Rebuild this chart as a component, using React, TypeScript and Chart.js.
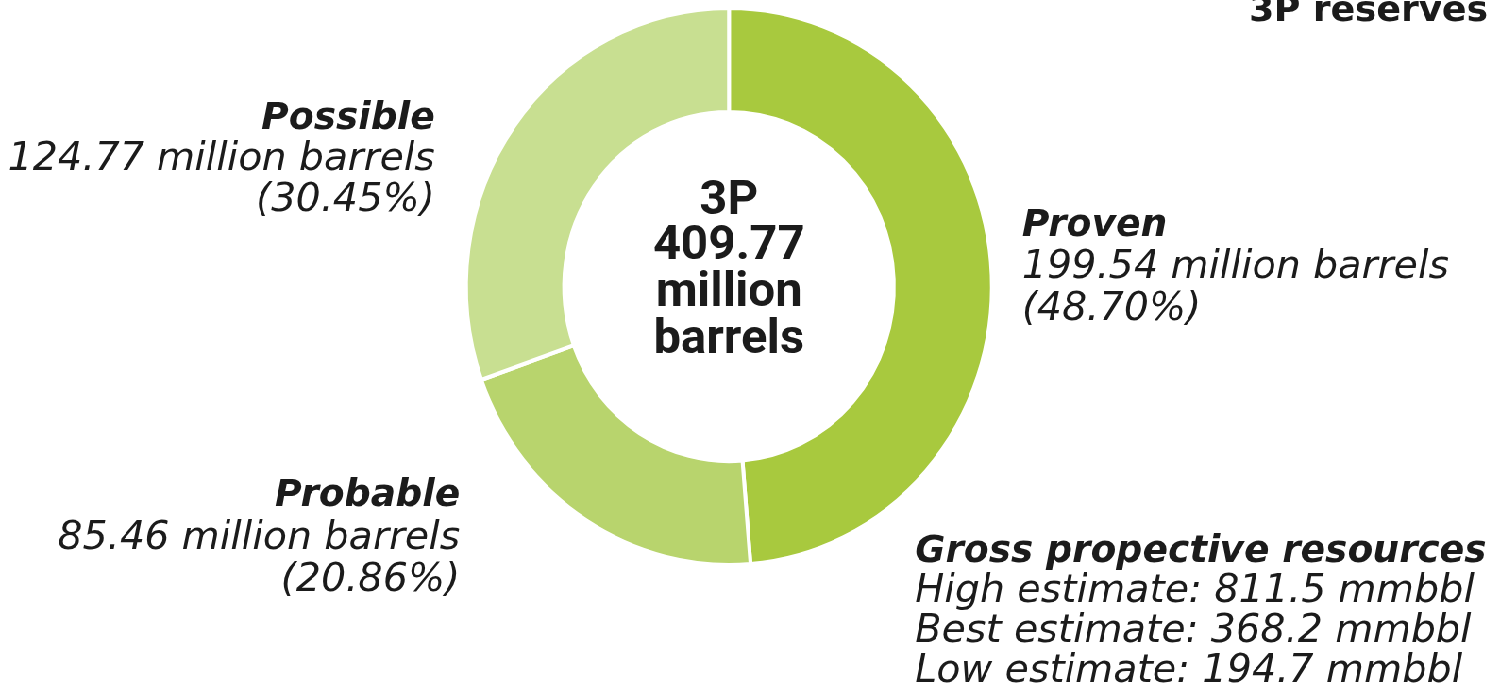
import React, { useEffect, useRef } from "react";
import { Chart, registerables } from "chart.js";

Chart.register(...registerables);

// ---- data ----
const categories = ["Proven", "Probable", "Possible"];
const reserves = [199.54, 85.46, 124.77];
const shares = ["48.70%", "20.86%", "30.45%"];
const colors = ["#a8c93e", "#b8d46d", "#c8df91"];
const totalLines = ["3P", "409.77", "million", "barrels"];
const title = "3P reserves";
const prospectiveTitle = "Gross propective resources";
const prospectiveLines = [
  "High estimate: 811.5 mmbbl",
  "Best estimate: 368.2 mmbbl",
  "Low estimate: 194.7 mmbbl",
];

// ---- layout (screen pixels) ----
const SX = 0.944; // horizontal squash of the reference image
const W = 1497;
const H = 688;
const CW = Math.round(W / SX);
const CENTER_X = 729; // screen
const CENTER_Y = 286.5;
const HALF = 280.5;

const INK = "#1b1b1b";
const BOLD_IT = "italic bold 37px 'DejaVu Sans'";
const REG_IT = "italic 39px 'DejaVu Sans'";

type Block = { x: number; align: CanvasTextAlign; ys: number[]; lines: string[] };

const labelBlocks = (): Block[] => {
  const txt = (i: number) => [
    categories[i],
    `${reserves[i].toFixed(2)} million barrels`,
    `(${shares[i]})`,
  ];
  return [
    { x: 1022, align: "left", ys: [226, 268, 310], lines: txt(0) },
    { x: 460, align: "right", ys: [496, 539, 581], lines: txt(1) },
    { x: 435, align: "right", ys: [119, 160, 201], lines: txt(2) },
  ];
};

const textPlugin = {
  id: "textOverlay",
  afterDraw(chart: Chart) {
    const ctx = chart.ctx;
    ctx.save();
    ctx.setTransform(1 / SX, 0, 0, 1, 0, 0);
    ctx.fillStyle = INK;
    ctx.textBaseline = "middle";

    for (const b of labelBlocks()) {
      ctx.textAlign = b.align;
      b.lines.forEach((line, k) => {
        ctx.font = k === 0 ? BOLD_IT : REG_IT;
        ctx.fillText(line, b.x, b.ys[k]);
      });
    }

    // prospective resources
    ctx.textAlign = "left";
    ctx.font = BOLD_IT;
    ctx.fillText(prospectiveTitle, 915, 552);
    ctx.font = REG_IT;
    prospectiveLines.forEach((l, k) => ctx.fillText(l, 915, 592 + k * 40));

    // title
    ctx.textAlign = "right";
    ctx.textBaseline = "alphabetic";
    ctx.font = "bold 36px 'DejaVu Sans'";
    ctx.fillText(title, 1488, 21);

    // centre total
    ctx.textAlign = "center";
    ctx.textBaseline = "middle";
    ctx.font = "bold 48px Roboto";
    const cys = [202, 247, 294, 341];
    totalLines.forEach((l, k) => ctx.fillText(l, CENTER_X, cys[k]));
    ctx.restore();
  },
};

export default function App() {
  const ref = useRef<HTMLCanvasElement>(null);

  useEffect(() => {
    if (!ref.current) return;
    document.body.style.margin = "0";
    const cx = CENTER_X / SX;
    const left = cx - HALF;
    const right = CW - (cx + HALF);
    const top = CENTER_Y - HALF;
    const bottom = H - (CENTER_Y + HALF);
    const chart = new Chart(ref.current, {
      type: "doughnut",
      data: {
        labels: categories,
        datasets: [
          {
            data: reserves,
            backgroundColor: colors,
            borderColor: "#ffffff",
            borderWidth: 4,
            hoverOffset: 0,
          },
        ],
      },
      options: {
        responsive: false,
        animation: false,
        cutout: "62.7%",
        layout: { padding: { left, right, top, bottom } },
        plugins: {
          legend: { display: false },
          tooltip: { enabled: false },
        },
        events: [],
      },
      plugins: [textPlugin],
    });
    return () => chart.destroy();
  }, []);

  return (
    <div
      style={{
        position: "fixed",
        left: 0,
        top: 0,
        width: CW,
        height: H,
        background: "#ffffff",
        transform: `scaleX(${SX})`,
        transformOrigin: "0 0",
      }}
    >
      <canvas ref={ref} width={CW} height={H} />
    </div>
  );
}
